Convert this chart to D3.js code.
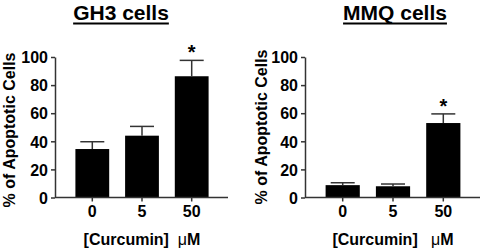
<!DOCTYPE html>
<html>
<head>
<meta charset="utf-8">
<script src="https://cdn.jsdelivr.net/npm/d3@7"></script>
<style>
  body { margin: 0; background: #fff; }
  text { font-family: "Liberation Sans", Arial, sans-serif; font-weight: bold; }
</style>
</head>
<body>
<div id="wrapper"></div>
<script>
// doses (x categories)
var doses = ["0", "5", "50"];
var yTicks = [0, 20, 40, 60, 80, 100];

// % apoptotic cells, mean and top of error bar
var gh3Mean = [34.5, 44, 86.3];
var gh3Err = [39.7, 50.6, 97.6];
var gh3Star = [false, false, true];

var mmqMean = [8.8, 8, 53];
var mmqErr = [10.5, 9.6, 59.5];
var mmqStar = [false, false, true];

var W = 482, H = 252;
var svg = d3.select("#wrapper").append("svg")
    .attr("width", W)
    .attr("height", H);

function drawPanel(opts) {
  var data = doses.map(function(d, i) {
    return {dose: d, mean: opts.mean[i], err: opts.err[i], star: opts.star[i]};
  });

  var y = d3.scaleLinear().domain([0, 100]).range([197.5, 57]);
  var x = d3.scaleBand()
      .domain(doses)
      .range([opts.x0 + 4.5, opts.x1 - 3.5])
      .padding(0.32);

  var g = svg.append("g");

  // title, underlined
  var title = g.append("text")
      .attr("x", opts.titleX)
      .attr("y", 20)
      .attr("text-anchor", "middle")
      .style("font-size", "21px")
      .text(opts.title);
  var bb = title.node().getBBox();
  g.append("line")
      .attr("x1", bb.x).attr("x2", bb.x + bb.width)
      .attr("y1", 23.5).attr("y2", 23.5)
      .attr("stroke", "#000")
      .attr("stroke-width", 2);

  // bars
  g.selectAll(".bar")
      .data(data)
    .enter().append("rect")
      .attr("class", "bar")
      .attr("x", function(d) { return x(d.dose); })
      .attr("width", x.bandwidth())
      .attr("y", function(d) { return y(d.mean); })
      .attr("height", function(d) { return y(0) - y(d.mean); })
      .attr("fill", "#000");

  // error bars (upper only)
  var cx = function(d) { return x(d.dose) + x.bandwidth() / 2; };
  g.selectAll(".err")
      .data(data)
    .enter().append("line")
      .attr("x1", cx).attr("x2", cx)
      .attr("y1", function(d) { return y(d.mean); })
      .attr("y2", function(d) { return y(d.err); })
      .attr("stroke", "#333")
      .attr("stroke-width", 1.5);
  g.selectAll(".cap")
      .data(data)
    .enter().append("line")
      .attr("x1", function(d) { return cx(d) - 12; })
      .attr("x2", function(d) { return cx(d) + 12; })
      .attr("y1", function(d) { return y(d.err); })
      .attr("y2", function(d) { return y(d.err); })
      .attr("stroke", "#333")
      .attr("stroke-width", 1.5);

  // significance stars
  g.selectAll(".star")
      .data(data.filter(function(d) { return d.star; }))
    .enter().append("text")
      .attr("x", cx)
      .attr("y", function(d) { return y(d.err) - 1; })
      .attr("text-anchor", "middle")
      .style("font-size", "20px")
      .text("*");

  // y axis
  var yAxis = g.append("g")
      .attr("transform", "translate(" + opts.x0 + ",0)")
      .call(d3.axisLeft(y).tickValues(yTicks).tickSize(4).tickSizeOuter(0).tickPadding(3));
  yAxis.select(".domain").attr("stroke", "#333").attr("stroke-width", 1.5);
  yAxis.selectAll(".tick line").attr("stroke", "#333").attr("stroke-width", 1.5);
  yAxis.selectAll("text")
      .attr("fill", "#000")
      .style("font-size", "16px")
      .attr("font-family", null)
      .attr("dy", "0.36em");

  // x axis
  var xAxis = g.append("g")
      .attr("transform", "translate(0," + y(0) + ")")
      .call(d3.axisBottom(x).tickSize(4).tickPadding(4));
  xAxis.select(".domain").remove();
  xAxis.append("line")
      .attr("x1", opts.x0).attr("x2", opts.x1)
      .attr("stroke", "#333")
      .attr("stroke-width", 1.5);
  xAxis.selectAll(".tick line").attr("stroke", "#333").attr("stroke-width", 1.5);
  xAxis.selectAll("text")
      .attr("fill", "#000")
      .style("font-size", "16px")
      .attr("font-family", null);

  // axis labels
  g.append("text")
      .attr("transform", "translate(" + opts.yLabelX + "," + opts.yLabelY + ") rotate(-90)")
      .attr("text-anchor", "middle")
      .style("font-size", "16px")
      .text("% of Apoptotic Cells");

  var xl = g.append("text")
      .attr("x", x("5") + x.bandwidth() / 2)
      .attr("y", 245)
      .attr("text-anchor", "middle")
      .style("font-size", "16px");
  xl.append("tspan").text("[Curcumin]" + opts.gap);
  xl.append("tspan").style("font-weight", "normal").text("\u03bc");
  xl.append("tspan").text("M");
}

drawPanel({title: "GH3 cells", titleX: 121, x0: 55, x1: 228, yLabelX: 15, yLabelY: 130,
           mean: gh3Mean, err: gh3Err, star: gh3Star, gap: "\u00a0\u00a0"});
drawPanel({title: "MMQ cells", titleX: 395, x0: 305, x1: 480, yLabelX: 267, yLabelY: 127,
           mean: mmqMean, err: mmqErr, star: mmqStar, gap: "\u00a0\u00a0\u00a0"});
</script>
</body>
</html>
